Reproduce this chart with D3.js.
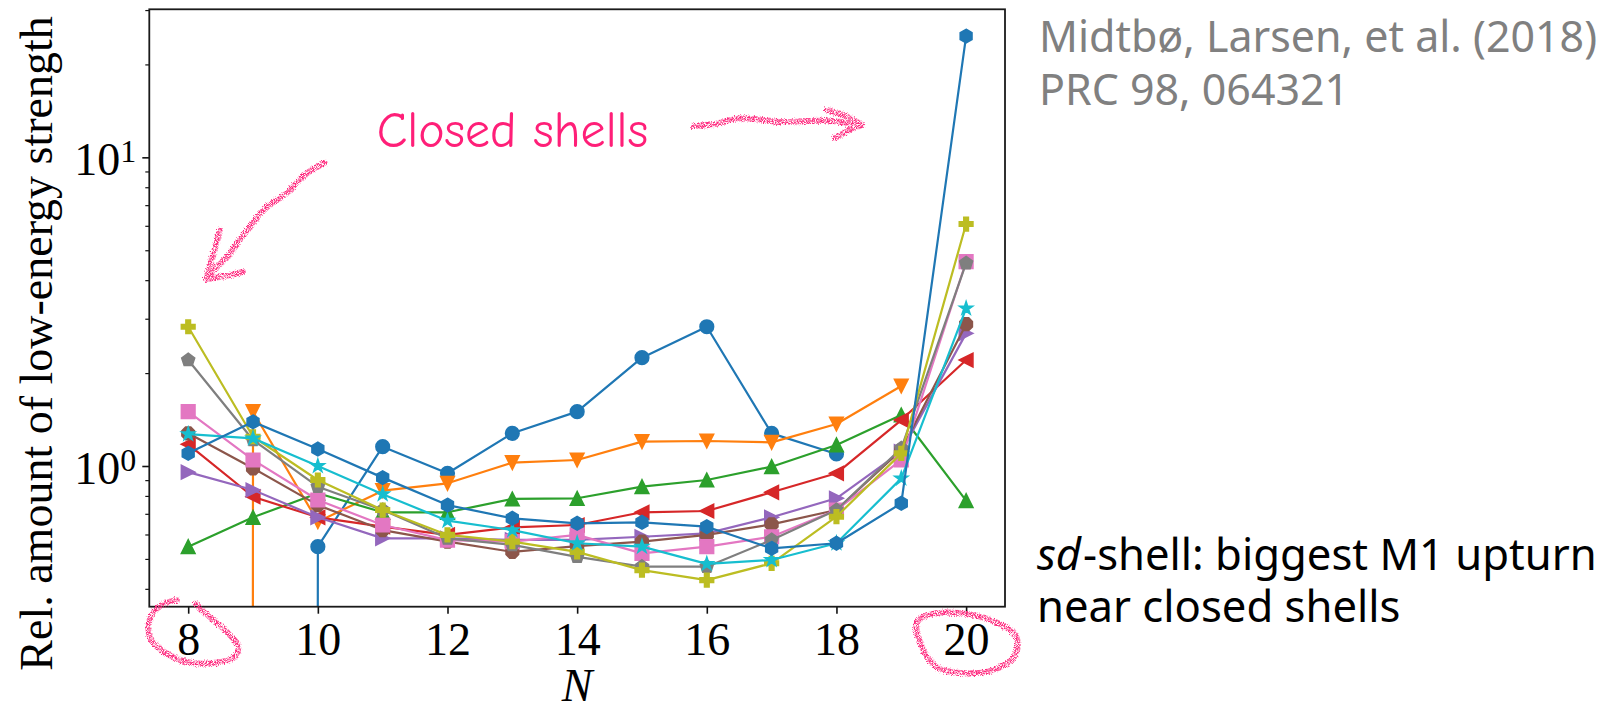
<!DOCTYPE html>
<html>
<head>
<meta charset="utf-8">
<script src="https://cdn.jsdelivr.net/npm/d3@7"></script>
<style>
  body { margin: 0; background: #ffffff; }
  svg { display: block; }
</style>
</head>
<body>
<svg id="chart" width="1616" height="711"></svg>
<script>
// ---- data -------------------------------------------------------------
const neutronNumbers = [8, 9, 10, 11, 12, 13, 14, 15, 16, 17, 18, 19, 20];
const xTickValues = [8, 10, 12, 14, 16, 18, 20];
const yMajorTicks = [1, 10];
const yTickExponents = ["0", "1"];
const yMinorTicks = [0.4, 0.5, 0.6, 0.7, 0.8, 0.9, 2, 3, 4, 5, 6, 7, 8, 9, 20, 30];

// relative low-energy strength per isotopic chain (null = no nucleus, 0 = no strength)
const circleSeries   = [null, 0, 0.548, 1.155, 0.947, 1.276, 1.50, 2.243, 2.826, 1.276, 1.094, null, null];
const triDownSeries  = [0, 1.50, 0.660, 0.832, 0.879, 1.025, 1.046, 1.199, 1.205, 1.193, 1.368, 1.816, null];
const triUpSeries    = [0.548, 0.682, 0.816, 0.708, 0.708, 0.782, 0.786, 0.857, 0.901, 0.995, 1.17, 1.463, 0.772];
const triLeftSeries  = [1.176, 0.795, 0.682, 0.636, 0.598, 0.633, 0.644, 0.708, 0.715, 0.822, 0.947, 1.409, 2.204];
const triRightSeries = [0.955, 0.836, 0.682, 0.583, 0.583, 0.576, 0.576, 0.590, 0.605, 0.682, 0.786, 1.113, 2.69];
const octagonSeries  = [1.276, 0.983, 0.747, 0.620, 0.569, 0.527, 0.550, 0.569, 0.598, 0.647, 0.720, 1.127, 2.88];
const squareSeries   = [1.50, 1.046, 0.776, 0.644, 0.575, 0.569, 0.598, 0.521, 0.548, 0.590, 0.720, 1.046, 4.59];
const pentagonSeries = [2.204, 1.214, 0.857, 0.720, 0.583, 0.555, 0.508, 0.472, 0.472, 0.576, 0.720, 1.141, 4.54];
const plusSeries     = [2.826, 1.244, 0.901, 0.720, 0.598, 0.569, 0.527, 0.460, 0.427, 0.484, 0.685, 1.099, 6.08];
const starSeries     = [1.269, 1.229, 1.0, 0.810, 0.665, 0.620, 0.562, 0.548, 0.482, 0.496, 0.562, 0.912, 3.24];
const hexagonSeries  = [1.099, 1.39, 1.135, 0.917, 0.747, 0.677, 0.652, 0.657, 0.636, 0.541, 0.562, 0.757, 24.7];

const tab10 = ["#1f77b4", "#ff7f0e", "#2ca02c", "#d62728", "#9467bd",
               "#8c564b", "#e377c2", "#7f7f7f", "#bcbd22", "#17becf"];

const seriesList = [
  { values: circleSeries,   marker: "circle" },
  { values: triDownSeries,  marker: "triDown" },
  { values: triUpSeries,    marker: "triUp" },
  { values: triLeftSeries,  marker: "triLeft" },
  { values: triRightSeries, marker: "triRight" },
  { values: octagonSeries,  marker: "octagon" },
  { values: squareSeries,   marker: "square" },
  { values: pentagonSeries, marker: "pentagon" },
  { values: plusSeries,     marker: "plus" },
  { values: starSeries,     marker: "star" },
  { values: hexagonSeries,  marker: "hexagon" }
].map((s, i) => ({ ...s, color: tab10[i % tab10.length] }));

// ---- layout -----------------------------------------------------------
const plot = { left: 149.3, right: 1005, top: 9.3, bottom: 606.7 };
const serif = "'Liberation Serif', 'Times New Roman', serif";
const sans = "'Noto Sans', 'Open Sans', sans-serif";
const pink = "#ff2a7f";

const svg = d3.select("#chart");

const x = d3.scaleLinear().domain([7.4, 20.6]).range([plot.left, plot.right]);
const y = d3.scaleLog().domain([0.3501, 30.17]).range([plot.bottom, plot.top]);

const defs = svg.append("defs");
defs.append("clipPath").attr("id", "plotClip")
  .append("rect")
  .attr("x", plot.left).attr("y", plot.top)
  .attr("width", plot.right - plot.left).attr("height", plot.bottom - plot.top);

// speckled "marker pen" texture for the hand-drawn annotations
const chalk = defs.append("filter").attr("id", "chalk")
  .attr("x", "-20%").attr("y", "-20%").attr("width", "140%").attr("height", "140%");
chalk.append("feTurbulence").attr("type", "fractalNoise").attr("baseFrequency", 1.1)
  .attr("numOctaves", 2).attr("seed", 5).attr("result", "noise");
chalk.append("feDisplacementMap").attr("in", "SourceGraphic").attr("in2", "noise")
  .attr("scale", 5).attr("xChannelSelector", "R").attr("yChannelSelector", "G").attr("result", "rough");
chalk.append("feColorMatrix").attr("in", "noise").attr("type", "matrix")
  .attr("values", "0 0 0 0 0  0 0 0 0 0  0 0 0 0 0  3.2 0 0 0 -1.0").attr("result", "mask");
chalk.append("feComposite").attr("in", "rough").attr("in2", "mask").attr("operator", "in");

// ---- marker shapes (matplotlib-style, r = half the marker size) -------
function markerPath(kind, r) {
  const poly = pts => "M" + pts.map(p => p[0].toFixed(2) + "," + p[1].toFixed(2)).join("L") + "Z";
  const regular = (n, rot, rad) => d3.range(n).map(i => {
    const a = -Math.PI / 2 + rot + i * 2 * Math.PI / n;
    return [rad * Math.cos(a), rad * Math.sin(a)];
  });
  switch (kind) {
    case "circle":   return `M${r},0A${r},${r} 0 1,1 ${-r},0A${r},${r} 0 1,1 ${r},0Z`;
    case "triDown":  return poly([[0, r], [-r, -r], [r, -r]]);
    case "triUp":    return poly([[0, -r], [-r, r], [r, r]]);
    case "triLeft":  return poly([[-r, 0], [r, -r], [r, r]]);
    case "triRight": return poly([[r, 0], [-r, -r], [-r, r]]);
    case "octagon":  return poly(regular(8, Math.PI / 8, r));
    case "square":   return poly([[-r, -r], [r, -r], [r, r], [-r, r]]);
    case "pentagon": return poly(regular(5, 0, r));
    case "hexagon":  return poly(regular(6, 0, r));
    case "plus": {
      const u = r / 3;
      return poly([[-1, -3], [1, -3], [1, -1], [3, -1], [3, 1], [1, 1], [1, 3], [-1, 3],
                   [-1, 1], [-3, 1], [-3, -1], [-1, -1]].map(p => [p[0] * u, p[1] * u]));
    }
    case "star": {
      const pts = d3.range(10).map(i => {
        const a = -Math.PI / 2 + i * Math.PI / 5;
        const rad = i % 2 === 0 ? r : r * 0.381966;
        return [rad * Math.cos(a), rad * Math.sin(a)];
      });
      return poly(pts);
    }
  }
}

// ---- data lines and markers ------------------------------------------
const tinyPositive = 1e-300;   // non-positive values are clipped like a log axis does
const line = d3.line()
  .defined(d => d.v !== null)
  .x(d => x(d.n))
  .y(d => y(Math.max(d.v, tinyPositive)));

const dataLayer = svg.append("g").attr("clip-path", "url(#plotClip)");
const markerRadius = 6.8;

seriesList.forEach(s => {
  const pts = neutronNumbers.map((n, i) => ({ n, v: s.values[i] }));
  const g = dataLayer.append("g");
  g.append("path")
    .datum(pts)
    .attr("d", line)
    .attr("fill", "none")
    .attr("stroke", s.color)
    .attr("stroke-width", 2.2)
    .attr("stroke-linejoin", "round");
  g.selectAll("path.mk")
    .data(pts.filter(d => d.v !== null && d.v > 0))
    .join("path")
    .attr("class", "mk")
    .attr("transform", d => `translate(${x(d.n)},${y(d.v)})`)
    .attr("d", markerPath(s.marker, markerRadius))
    .attr("fill", s.color)
    .attr("stroke", s.color)
    .attr("stroke-width", 1.6)
    .attr("stroke-linejoin", "miter");
});

// ---- axes --------------------------------------------------------------
const xAxis = svg.append("g")
  .attr("transform", `translate(0,${plot.bottom})`)
  .call(d3.axisBottom(x).tickValues(xTickValues).tickSize(7).tickPadding(8.6)
        .tickFormat(d3.format("d")));
xAxis.select(".domain").remove();
xAxis.selectAll(".tick line").attr("stroke", "#111").attr("stroke-width", 1.6);
xAxis.selectAll(".tick text")
  .attr("font-family", serif).attr("font-size", 46).attr("fill", "#000");

const yAxisMajor = svg.append("g")
  .attr("transform", `translate(${plot.left},0)`)
  .call(d3.axisLeft(y).tickValues(yMajorTicks).tickSize(7).tickFormat(""));
yAxisMajor.select(".domain").remove();
yAxisMajor.selectAll(".tick text").remove();
yAxisMajor.selectAll(".tick line").attr("stroke", "#111").attr("stroke-width", 1.6);

const yAxisMinor = svg.append("g")
  .attr("transform", `translate(${plot.left},0)`)
  .call(d3.axisLeft(y).tickValues(yMinorTicks).tickSize(4).tickFormat(""));
yAxisMinor.select(".domain").remove();
yAxisMinor.selectAll(".tick text").remove();
yAxisMinor.selectAll(".tick line").attr("stroke", "#111").attr("stroke-width", 1.2);

// power-of-ten labels
yMajorTicks.forEach((v, i) => {
  const t = svg.append("text")
    .attr("x", plot.left - 13)
    .attr("y", y(v) + 17.7)
    .attr("text-anchor", "end")
    .attr("font-family", serif)
    .attr("fill", "#000");
  t.append("tspan").attr("font-size", 46).text("10");
  t.append("tspan").attr("font-size", 32).attr("dy", -13).text(yTickExponents[i]);
});

// frame
svg.append("rect")
  .attr("x", plot.left).attr("y", plot.top)
  .attr("width", plot.right - plot.left).attr("height", plot.bottom - plot.top)
  .attr("fill", "none").attr("stroke", "#1a1a1a").attr("stroke-width", 1.8);

// axis titles
svg.append("text")
  .attr("transform", "translate(51.7,670.7) rotate(-90)")
  .attr("text-anchor", "start")
  .attr("font-family", serif).attr("font-size", 46).attr("fill", "#000")
  .text("Rel. amount of low-energy strength");

svg.append("text")
  .attr("x", (plot.left + plot.right) / 2).attr("y", 701)
  .attr("text-anchor", "middle")
  .attr("font-family", serif).attr("font-style", "italic")
  .attr("font-size", 46).attr("fill", "#000")
  .text("N");

// ---- annotations -------------------------------------------------------
function fitWidth(sel, target) {
  const w = sel.node().getComputedTextLength();
  const fs = parseFloat(sel.attr("font-size"));
  sel.attr("font-size", (fs * target / w).toFixed(2));
}

const closed = svg.append("text")
  .attr("x", 376.7).attr("y", 146.7)
  .attr("font-family", "'Comic Sans MS', 'Comic Neue', Lato, sans-serif")
  .attr("font-size", 42).attr("fill", "#ff1f78")
  .text("Closed shells");
fitWidth(closed, 271.6);

const pen = svg.append("g")
  .attr("fill", "none").attr("stroke", pink).attr("stroke-width", 6)
  .attr("stroke-linecap", "round").attr("stroke-linejoin", "round")
  .attr("filter", "url(#chalk)");

const smooth = d3.line().curve(d3.curveCatmullRom.alpha(0.5));
const smoothClosed = d3.line().curve(d3.curveCatmullRomClosed.alpha(0.5));

// arrow towards N = 8
pen.append("path").attr("d", smooth([[325, 163], [306, 174], [287, 193], [267, 207], [253, 223],
                                       [240, 240], [227, 257], [212, 272], [207, 278]]));
pen.append("path").attr("d", smooth([[220, 230], [214, 252], [207, 277]]));
pen.append("path").attr("d", smooth([[207, 279], [225, 276], [243, 272]]));

// arrow towards N = 20
pen.append("path").attr("d", smooth([[694, 126], [715, 124], [737, 118.5], [760, 119.5],
                                       [782, 122], [806, 121], [832, 121], [861, 125]]));
pen.append("path").attr("d", smooth([[827, 110], [846, 116], [862, 125]]));
pen.append("path").attr("d", smooth([[862, 125], [848, 131], [835, 138]]));

// loops around the magic numbers on the axis
pen.append("path").attr("d", smooth([[177, 600], [160, 606], [150, 619], [150, 637], [163, 651],
                                       [187, 662], [213, 663], [235, 657], [238, 646], [227, 632],
                                       [210, 617], [196, 604]]));
pen.append("path").attr("d", smoothClosed([[917, 622], [928, 615], [960, 613], [993, 621], [1016, 636],
                                             [1015, 656], [993, 670], [960, 673], [937, 667], [922, 647]]));

// reference and remark
const ref1 = svg.append("text").attr("x", 1039).attr("y", 51.7)
  .attr("font-family", sans).attr("font-size", 38).attr("fill", "#808080")
  .text("Midtbø, Larsen, et al. (2018)");
fitWidth(ref1, 558);
svg.append("text").attr("x", 1039).attr("y", 105)
  .attr("font-family", sans).attr("font-size", ref1.attr("font-size")).attr("fill", "#808080")
  .text("PRC 98, 064321");

// first remark line: italic "sd" followed by upright text, laid out side by side
const noteX = 1037, noteTarget = 560;
const noteItalic = svg.append("text").attr("x", noteX).attr("y", 570)
  .attr("font-family", sans).attr("font-size", 38).attr("font-style", "italic").attr("fill", "#000")
  .text("sd");
const noteRest = svg.append("text").attr("y", 570)
  .attr("font-family", sans).attr("font-size", 38).attr("fill", "#000")
  .text("-shell: biggest M1 upturn");
const noteScale = noteTarget / (noteItalic.node().getComputedTextLength() + noteRest.node().getComputedTextLength() + 2);
const noteSize = 38 * noteScale;
noteItalic.attr("font-size", noteSize.toFixed(2));
noteRest.attr("font-size", noteSize.toFixed(2))
  .attr("x", noteX + noteItalic.node().getComputedTextLength() + 2);
svg.append("text").attr("x", noteX).attr("y", 621.7)
  .attr("font-family", sans).attr("font-size", noteSize.toFixed(2)).attr("fill", "#000")
  .text("near closed shells");
</script>
</body>
</html>
